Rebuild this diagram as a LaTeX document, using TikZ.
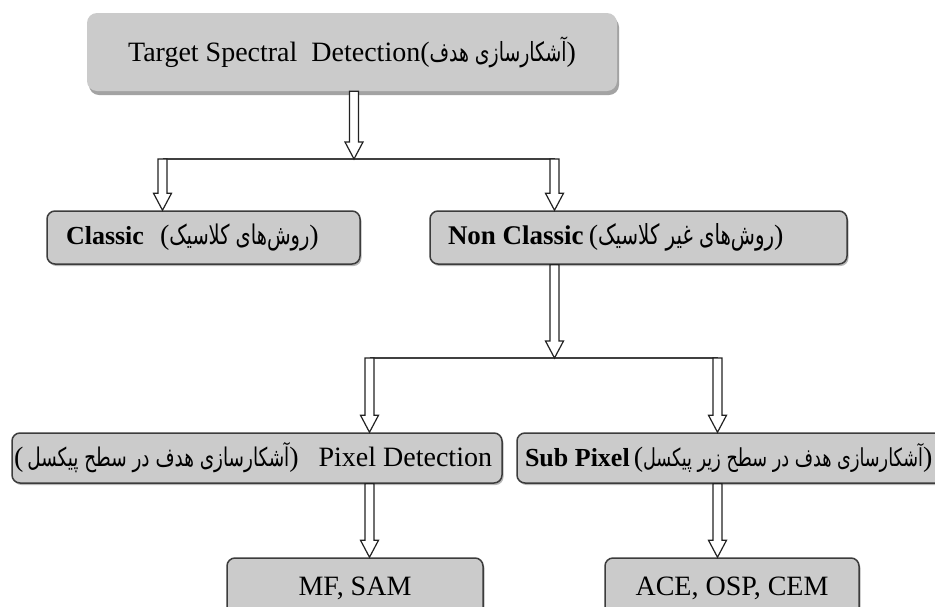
\documentclass[tikz,border=0pt]{standalone}
\usepackage{fontspec}
\usepackage{graphicx}
\setmainfont{Liberation Serif}
\newfontfamily\fa[Script=Arabic]{DejaVu Sans}
\TeXXeTstate=1
\usetikzlibrary{shadows,calc}
\definecolor{boxfill}{HTML}{CBCBCB}
\definecolor{boxline}{HTML}{3C3C3C}
\definecolor{shadowc}{HTML}{9A9A9A}
\definecolor{arrowc}{HTML}{222222}
\definecolor{barc}{HTML}{404040}
\begin{document}
\begin{tikzpicture}[x=1pt,y=-1pt,
  box/.style={draw=boxline, line width=1.5pt, fill=boxfill, rounded corners=8pt,
    inner sep=0pt, font=\fontsize{28}{30}\selectfont,
    drop shadow={shadow xshift=1.5pt, shadow yshift=-2pt, fill=shadowc, opacity=0.7}},
  topbox/.style={fill=boxfill, rounded corners=10pt, inner sep=0pt,
    font=\fontsize{28}{30}\selectfont,
    drop shadow={shadow xshift=2pt, shadow yshift=-4pt, fill=shadowc, opacity=0.9}},
  bar/.style={draw=barc, line width=2pt},
  harrow/.style={fill=white, draw=arrowc, line width=1.2pt, line join=miter,
    to path={let \p1=(\tikztostart), \p2=(\tikztotarget) in
      (\x1-4.5pt,\y1) -- (\x1-4.5pt,\y2+17pt) -- (\x1-9pt,\y2+17pt) -- (\x1,\y2)
      -- (\x1+9pt,\y2+17pt) -- (\x1+4.5pt,\y2+17pt) -- (\x1+4.5pt,\y1) -- cycle}}
]
\useasboundingbox (0,0) rectangle (935,606);
\fill[white] (0,0) rectangle (935,606);
\clip (0,0) rectangle (935,606);

% boxes
\node[topbox, minimum height=78pt] (top) at (352,52)
  {\makebox[530pt][c]{\raisebox{6pt}{Target Spectral\ \ Detection(\scalebox{1}[1.4]{\resizebox{137pt}{!}{\fa\beginR آشکارسازی هدف\endR}})}}};

\node[box, minimum height=53pt] (classic) at (203.5,237.5)
  {\makebox[313pt][l]{\hspace*{19pt}{\fontsize{26}{28}\selectfont\bfseries Classic}\hspace{16pt}(\scalebox{1}[1.4]{\resizebox{140pt}{!}{\fa\beginR روش‌های کلاسیک\endR}})}};

\node[box, minimum height=53pt] (nonclassic) at (638.5,237.5)
  {\makebox[417pt][l]{\hspace*{18pt}{\fontsize{27}{29}\selectfont\bfseries Non Classic}\hspace{5pt}(\scalebox{1}[1.4]{\resizebox{176pt}{!}{\fa\beginR روش‌های غیر کلاسیک\endR}})}};

\node[box, minimum height=50pt] (pixel) at (257,458)
  {\makebox[490pt][l]{\hspace*{2pt}(\hspace{4pt}\scalebox{1}[1.4]{\resizebox{262pt}{!}{\fa\beginR آشکارسازی هدف در سطح پیکسل\endR}})\hspace{20pt}Pixel Detection}};

\node[box, minimum height=50pt] (sub) at (733.5,458)
  {\makebox[433pt][l]{\hspace*{8pt}{\fontsize{26}{28}\selectfont\bfseries Sub Pixel}\hspace{4pt}(\scalebox{1}[1.4]{\resizebox{280pt}{!}{\fa\beginR آشکارسازی هدف در سطح زیر پیکسل\endR}})}};

\node[box, minimum height=60pt] (mf) at (355,588)
  {\makebox[256pt][c]{\raisebox{-2pt}{MF, SAM}}};

\node[box, minimum height=60pt] (ace) at (732,588)
  {\makebox[254pt][c]{\raisebox{-2pt}{ACE, OSP, CEM}}};

% junctions
\coordinate (j1) at (354,159);
\coordinate (j1l) at (162.5,159);
\coordinate (j1r) at (554.5,159);
\coordinate (j2) at (554.5,358);
\coordinate (j2l) at (369.5,358);
\coordinate (j2r) at (717.5,358);

\draw[bar] (j1l) -- (j1r);
\draw[bar] (j2l) -- (j2r);

\draw[harrow] (top.south -| j1) to (j1);
\draw[harrow] (j1l) to (j1l |- classic.north);
\draw[harrow] (j1r) to (j1r |- nonclassic.north);
\draw[harrow] (nonclassic.south -| j2) to (j2);
\draw[harrow] (j2l) to (j2l |- pixel.north);
\draw[harrow] (j2r) to (j2r |- sub.north);
\draw[harrow] (pixel.south -| j2l) to (j2l |- mf.north);
\draw[harrow] (sub.south -| j2r) to (j2r |- ace.north);
\end{tikzpicture}
\end{document}
